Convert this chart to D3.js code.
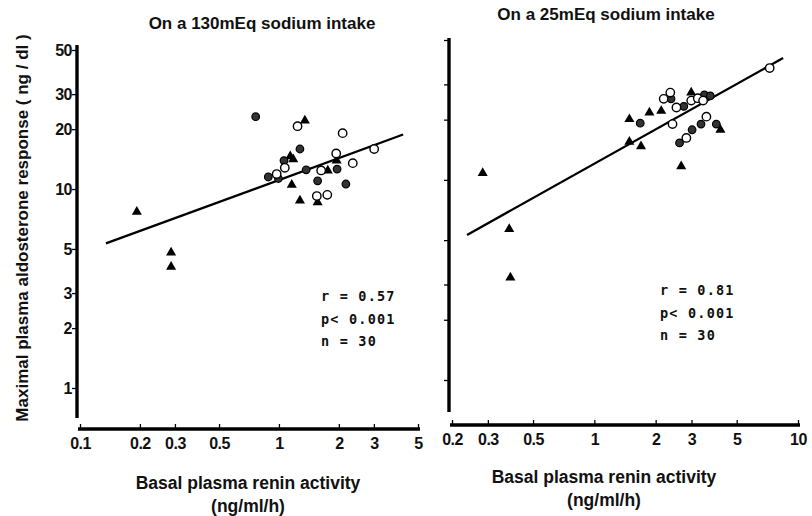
<!DOCTYPE html>
<html><head><meta charset="utf-8">
<script src="https://cdn.jsdelivr.net/npm/d3@7"></script>
<style>
body{margin:0;background:#fff;}
svg{display:block;}
text{font-family:"Liberation Sans",Arial,sans-serif;font-weight:bold;fill:#111;}
</style></head>
<body><svg id="c" width="812" height="516"></svg>
<script>
// ---- data ----
const xTicksLeft = [0.1, 0.2, 0.3, 0.5, 1, 2, 3, 5];
const xTicksRight = [0.2, 0.3, 0.5, 1, 2, 3, 5, 10];
const yTicks = [1, 2, 3, 5, 10, 20, 30, 50];

// Left panel: 130 mEq sodium intake  [renin, aldosterone]
const leftFilled = [[0.764,23.1],[1.06,13.9],[1.275,15.9],[0.884,11.5],[1.37,12.5],[1.565,11.0],[1.96,12.6],[2.17,10.6],[0.994,11.3]];
const leftOpen = [[1.24,20.7],[2.09,19.1],[1.94,15.1],[1.07,12.8],[0.974,11.9],[1.63,12.4],[2.35,13.5],[3.01,15.9],[1.55,9.22],[1.75,9.35]];
const leftTri = [[1.35,22.1],[1.14,14.6],[1.18,14.1],[1.76,12.4],[1.95,13.9],[1.16,10.5],[1.275,8.75],[1.565,8.58],[0.193,7.69],[0.287,4.79],[0.287,4.07]];
const leftLine = [[0.135,5.33],[4.21,18.8]];

// Right panel: 25 mEq sodium intake
const rightFilled = [[1.68,19.2],[2.38,25.4],[2.75,23.3],[2.62,15.3],[3.02,17.8],[3.34,19.0],[3.97,19.0],[3.47,26.6],[3.71,26.3]];
const rightOpen = [[7.26,36.2],[2.36,27.3],[2.19,25.4],[2.53,23.0],[2.99,24.9],[3.22,25.6],[3.42,24.9],[2.42,19.0],[3.55,20.7],[2.83,16.2]];
const rightTri = [[0.283,10.8],[0.382,5.67],[0.387,3.25],[1.486,20.1],[1.486,15.5],[1.864,21.7],[1.695,14.7],[2.13,22.1],[2.99,27.3],[2.67,11.7],[4.16,17.8]];
const rightLine = [[0.237,5.31],[8.45,40.6]];

const titles = ["On a 130mEq sodium intake", "On a 25mEq sodium intake"];
const statsLeft = ["r = 0.57", "p< 0.001", "n = 30"];
const statsRight = ["r = 0.81", "p< 0.001", "n = 30"];
const xTitle = ["Basal plasma renin activity", "(ng/ml/h)"];
const yTitle = "Maximal  plasma  aldosterone  response   ( ng / dl )";

const svg = d3.select("#c");

function panel(cfg){
  const g = svg.append("g");
  const x = d3.scaleLog().domain(cfg.xDom).range(cfg.xRange);
  const y = d3.scaleLog().domain([1,50]).range(cfg.yRange);

  // y axis
  const ya = g.append("g").attr("transform",`translate(${cfg.yAxisX},0)`)
    .call(d3.axisLeft(y).tickValues(yTicks).tickSize(5).tickFormat(cfg.yLabels ? d3.format("d") : ""));
  ya.select(".domain").remove();
  ya.append("line").attr("x1",0).attr("x2",0).attr("y1",cfg.yAxisTop).attr("y2",cfg.yAxisBottom)
    .attr("stroke","#000").attr("stroke-width",3.4);
  ya.selectAll(".tick line").attr("stroke","#000").attr("stroke-width",1.3);
  ya.selectAll(".tick text").attr("font-size",16).attr("x",-5).attr("dy","0.35em")
    .style("letter-spacing","-0.5px");

  // x axis
  const xa = g.append("g").attr("transform",`translate(0,${cfg.xAxisY})`)
    .call(d3.axisBottom(x).tickValues(cfg.xTicks).tickSize(-5).tickFormat(d=>String(d)));
  xa.select(".domain").remove();
  xa.append("line").attr("x1",cfg.xRange[0]-2).attr("x2",cfg.xRange[1]+2).attr("y1",0).attr("y2",0)
    .attr("stroke","#000").attr("stroke-width",3.4);
  xa.selectAll(".tick line").attr("stroke","#000").attr("stroke-width",1.3);
  xa.selectAll(".tick text").attr("font-size",16).attr("y",9).attr("dy","0.71em")
    .style("letter-spacing","-0.5px");

  // regression line
  g.append("path").datum(cfg.line)
    .attr("d", d3.line().x(d=>x(d[0])).y(d=>y(d[1])))
    .attr("stroke","#000").attr("stroke-width",2.3).attr("fill","none");

  // markers
  g.selectAll(".tri").data(cfg.tri).join("path")
    .attr("d", d3.symbol().type(d3.symbolTriangle).size(44))
    .attr("transform", d=>`translate(${x(d[0])},${y(d[1])})`)
    .attr("fill","#000");
  g.selectAll(".fc").data(cfg.filled).join("circle")
    .attr("cx",d=>x(d[0])).attr("cy",d=>y(d[1])).attr("r",3.8)
    .attr("fill","#333").attr("stroke","#000").attr("stroke-width",1.2);
  g.selectAll(".oc").data(cfg.open).join("circle")
    .attr("cx",d=>x(d[0])).attr("cy",d=>y(d[1])).attr("r",4.2)
    .attr("fill","#fff").attr("stroke","#000").attr("stroke-width",1.4);

  // title
  g.append("text").attr("x",cfg.titleX).attr("y",cfg.titleY).attr("text-anchor","middle")
    .attr("font-size",17).text(cfg.title);

  // stats
  g.selectAll(".st").data(cfg.stats).join("text")
    .attr("x",cfg.statX).attr("y",(d,i)=>cfg.statY + i*22.5)
    .attr("font-size",13.5).style("font-family","'DejaVu Sans Mono','Liberation Mono',monospace")
    .style("letter-spacing","1.2px").text(d=>d);

  // x title
  g.selectAll(".xt").data(xTitle).join("text")
    .attr("x",cfg.xtX).attr("y",(d,i)=>cfg.xtY + i*23).attr("text-anchor","middle")
    .attr("font-size",17.5).text(d=>d);
}

panel({
  xDom:[0.1,5], xRange:[80,418], yRange:[388,50],
  yAxisX:77, yAxisTop:45, yAxisBottom:418, xAxisY:429, xTicks:xTicksLeft, yLabels:true,
  filled:leftFilled, open:leftOpen, tri:leftTri, line:leftLine,
  title:titles[0], titleX:262, titleY:29,
  stats:statsLeft, statX:321, statY:301,
  xtX:248, xtY:489
});
panel({
  xDom:[0.2,10], xRange:[452,798], yRange:[380,40],
  yAxisX:449, yAxisTop:38, yAxisBottom:412, xAxisY:425, xTicks:xTicksRight, yLabels:false,
  filled:rightFilled, open:rightOpen, tri:rightTri, line:rightLine,
  title:titles[1], titleX:606, titleY:20,
  stats:statsRight, statX:660, statY:295,
  xtX:604, xtY:483
});

svg.append("text").attr("transform","translate(28,228) rotate(-90)").attr("text-anchor","middle")
  .attr("font-size",17).text(yTitle);
</script></body></html>
